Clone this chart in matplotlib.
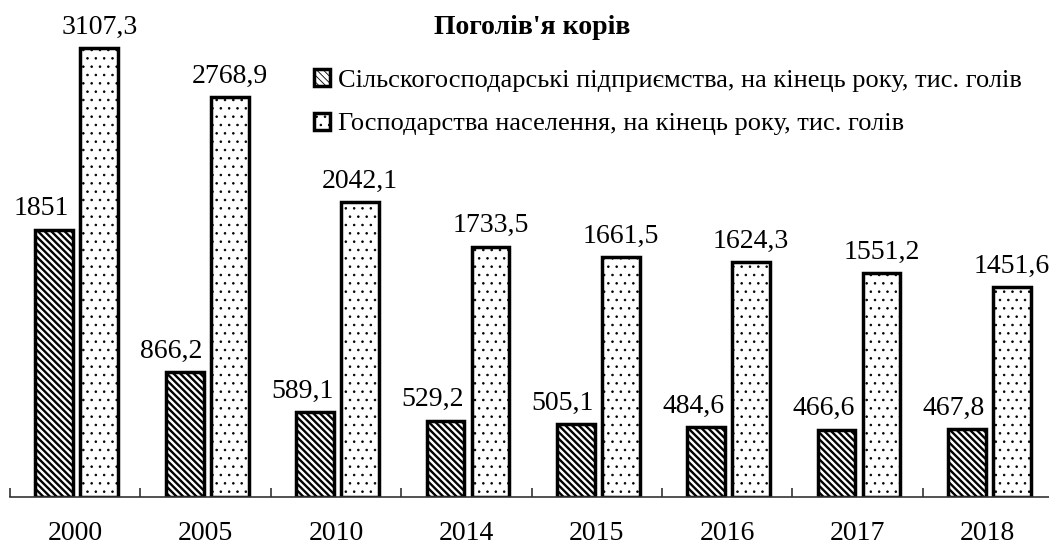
import numpy as np
import matplotlib
matplotlib.use('Agg')
import matplotlib.pyplot as plt

plt.rcParams['font.family'] = ['Liberation Serif', 'DejaVu Serif']

# дані
years = ['2000', '2005', '2010', '2014', '2015', '2016', '2017', '2018']
agro = [1851, 866.2, 589.1, 529.2, 505.1, 484.6, 466.6, 467.8]
agro_lbl = ['1851', '866,2', '589,1', '529,2', '505,1', '484,6', '466,6', '467,8']
house = [3107.3, 2768.9, 2042.1, 1733.5, 1661.5, 1624.3, 1551.2, 1451.6]
house_lbl = ['3107,3', '2768,9', '2042,1', '1733,5', '1661,5', '1624,3', '1551,2', '1451,6']
names = ['Сільскогосподарські підприємства, на кінець року, тис. голів',
         'Господарства населення, на кінець року, тис. голів']

fig = plt.figure(figsize=(10.49, 5.44), dpi=100)
ax = fig.add_axes([10 / 1049, 47 / 544, 1043 / 1049, 497 / 544])

x = np.arange(len(years))
w = 0.29
plt.rcParams['hatch.linewidth'] = 1.7
b1 = ax.bar(x - 0.16, agro, w, color='white', edgecolor='black', linewidth=2.5,
            hatch='\\\\\\\\\\', label=names[0])
plt.rcParams['hatch.linewidth'] = 0.6
b2 = ax.bar(x + 0.185, house, w, color='white', edgecolor='black', linewidth=2.5,
            hatch='..', label=names[1])

for i in range(len(years)):
    ax.annotate(agro_lbl[i], (x[i] - 0.26, agro[i]), xytext=(0, 6),
                textcoords='offset points', ha='center', va='bottom', fontsize=20)
    ax.annotate(house_lbl[i], (x[i] + 0.185, house[i]), xytext=(0, 6),
                textcoords='offset points', ha='center', va='bottom', fontsize=20)

ax.set_xlim(-0.5, 7.5)
ax.set_ylim(0, 3440)
for s in ['top', 'right', 'left']:
    ax.spines[s].set_visible(False)
ax.spines['bottom'].set_linewidth(1.2)
ax.spines['bottom'].set_color('#333333')

ax.set_xticks(x)
ax.set_xticklabels(years, fontsize=20)
ax.tick_params(axis='x', which='major', length=0, pad=17)
ax.set_xticks(np.arange(-0.5, 8, 1), minor=True)
ax.tick_params(axis='x', which='minor', direction='in', length=6.5, width=1.2, color='#333333')
ax.set_yticks([])

fig.text(532 / 1049, 1 - 28 / 544, "Поголів'я корів", ha='center', va='center',
         fontsize=20, fontweight='bold')

fig.legend(handles=[b1, b2], loc='upper left', bbox_to_anchor=(314 / 1049, 1 - 69 / 544),
           frameon=False, fontsize=19, handlelength=0.6, handleheight=0.6,
           handletextpad=0.3, labelspacing=0.8, borderpad=0, borderaxespad=0)

fig.savefig('out.png', dpi=100)
